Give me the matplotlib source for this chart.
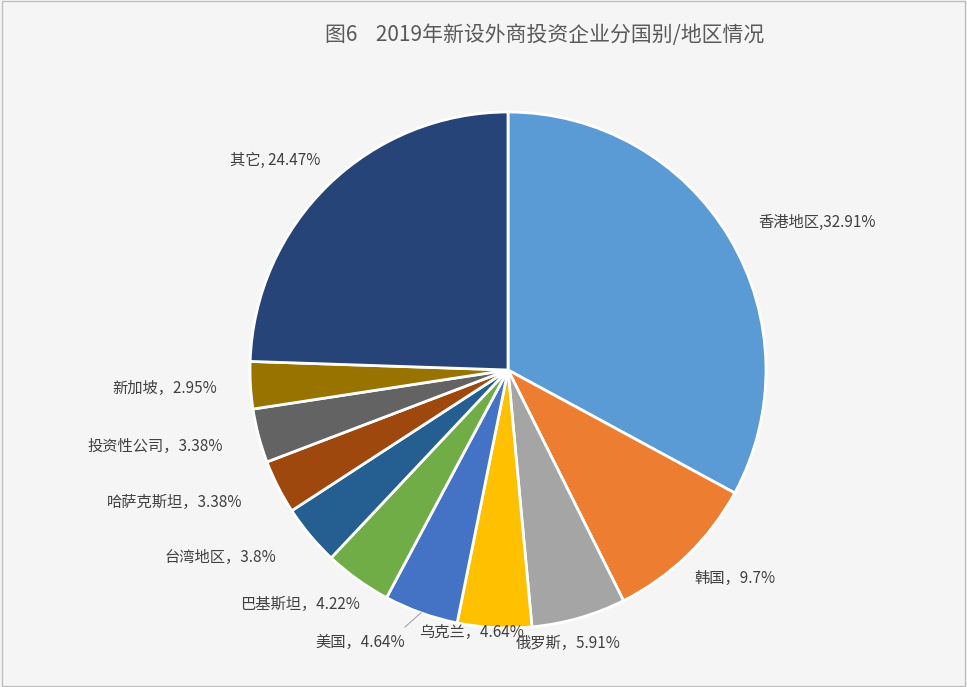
import matplotlib
matplotlib.use("Agg")
import matplotlib.pyplot as plt
import numpy as np

plt.rcParams['font.family'] = 'Noto Sans CJK SC'

categories = ["香港地区", "韩国", "俄罗斯", "乌克兰", "美国", "巴基斯坦", "台湾地区",
              "哈萨克斯坦", "投资性公司", "新加坡", "其它"]
values = [32.91, 9.7, 5.91, 4.64, 4.64, 4.22, 3.8, 3.38, 3.38, 2.95, 24.47]
value_labels = ["32.91%", "9.7%", "5.91%", "4.64%", "4.64%", "4.22%", "3.8%",
                "3.38%", "3.38%", "2.95%", "24.47%"]
seps = [",", "，", "，", "，", "，", "，", "，", "，", "，", "，", ", "]
colors = ["#5B9BD5", "#ED7D31", "#A5A5A5", "#FFC000", "#4472C4", "#70AD47",
          "#255E91", "#9E480E", "#636363", "#997300", "#264478"]

W, H = 967, 687
fig = plt.figure(figsize=(W/100, H/100), dpi=100, facecolor="#f5f5f5")
cx, cy, R = 508, 370, 258
ax = fig.add_axes([(cx-R)/W, (H-cy-R)/H, 2*R/W, 2*R/H])
ax.set_facecolor("#f5f5f5")
wedges, _ = ax.pie(values, colors=colors, startangle=90, counterclock=False,
                   wedgeprops=dict(edgecolor="white", linewidth=2))
ax.set_xlim(-1, 1); ax.set_ylim(-1, 1); ax.set_aspect("equal")

label_px = [(817, 222), (735, 578), (568, 643), (472, 632), (360, 642), (300, 604),
            (220, 557), (175, 502), (155, 446), (165, 388), (275, 160)]
for i, (w, c) in enumerate(zip(wedges, categories)):
    px, py = label_px[i]
    x, y = (px-cx)/R, (cy-py)/R
    ax.text(x, y, f"{c}{seps[i]}{value_labels[i]}", ha="center", va="center",
            fontsize=11, color="#404040", clip_on=False)
# leader line for 美国
w = wedges[4]
ang = np.deg2rad((w.theta1 + w.theta2)/2)
ax.plot([np.cos(ang)*1.0, (405-cx)/R], [np.sin(ang)*1.0, (cy-627)/R],
        color="#a6a6a6", lw=0.8, clip_on=False)

fig.text(545/W, 1-35/H, "图6    2019年新设外商投资企业分国别/地区情况", ha="center",
         va="center", fontsize=15, color="#595959")
fig.patches.append(plt.Rectangle((0.002, 0.002), 0.996, 0.996, transform=fig.transFigure,
                                 fill=False, edgecolor="#bfbfbf", lw=1))
fig.savefig("out.png", dpi=100, facecolor=fig.get_facecolor())
